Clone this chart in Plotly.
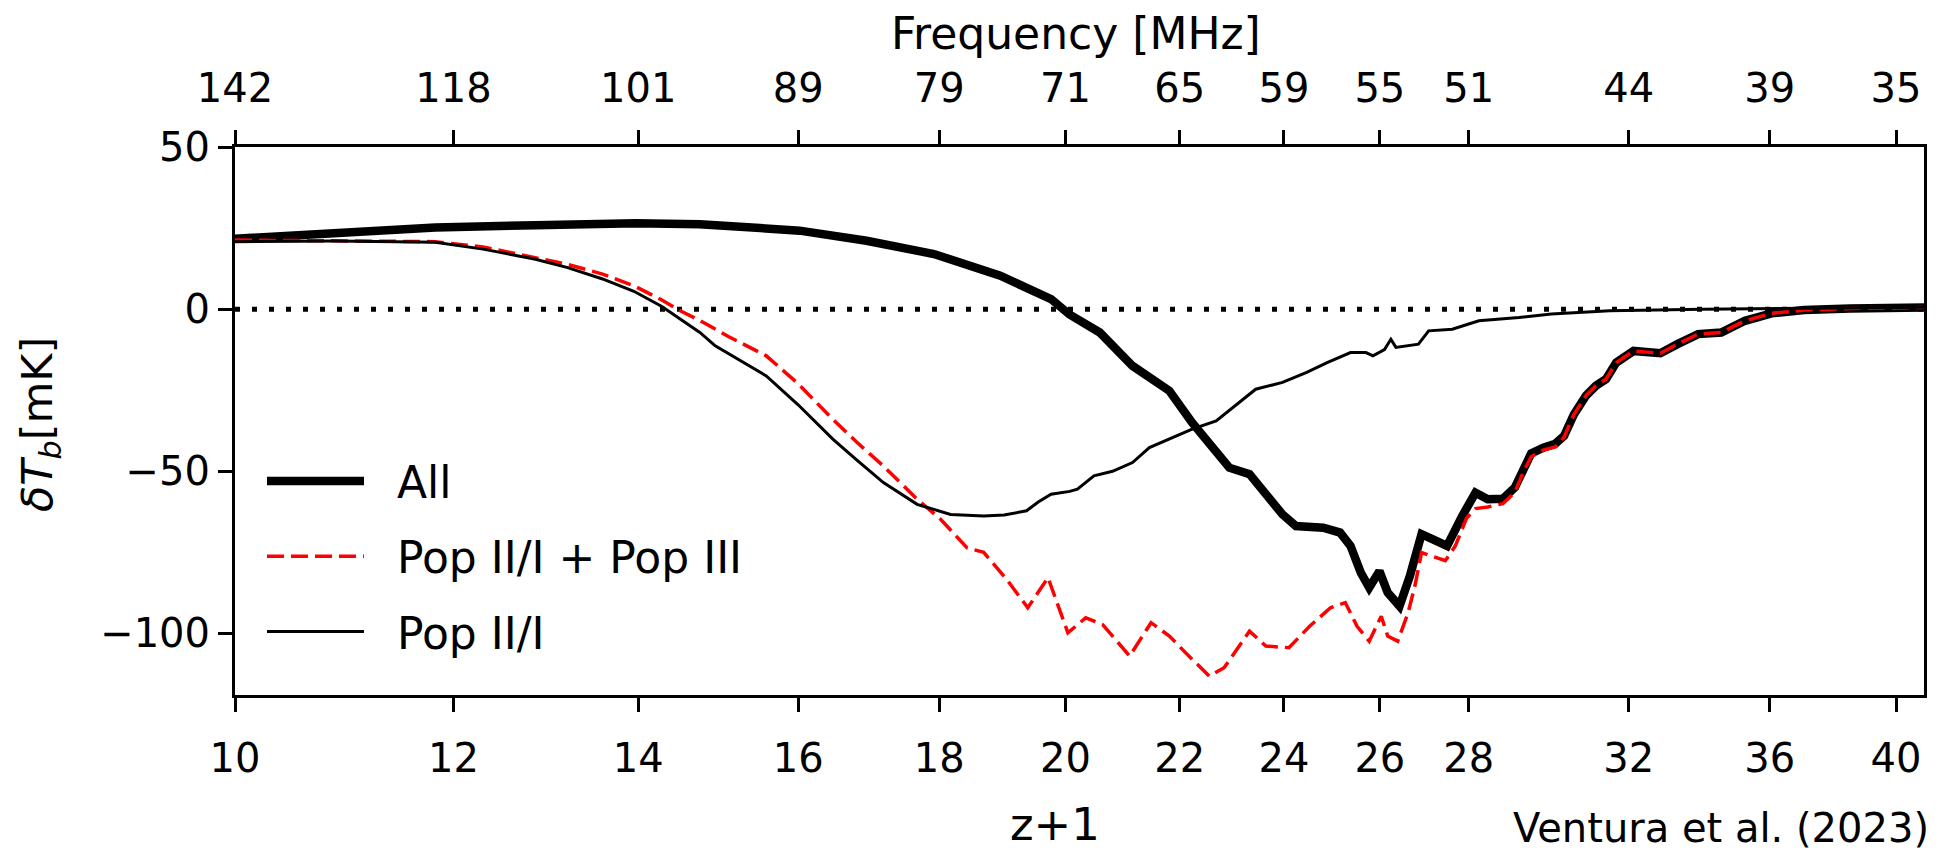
import plotly.graph_objects as go

# ---------------- data ----------------
zp1_all = [10.0, 10.87, 11.82, 12.85, 13.97, 14.74, 15.3, 16.02, 16.94, 17.92, 18.94, 19.76,
           20.07, 20.58, 21.15, 21.5, 21.81, 22.23, 22.55, 22.93, 23.32, 23.57, 23.97, 24.24,
           24.8, 25.15, 25.37, 25.59, 25.77, 25.99, 26.17, 26.43, 26.66, 26.92, 27.15, 27.5,
           27.85, 28.16, 28.45, 28.81, 29.1, 29.3, 29.5, 29.8, 30.1, 30.32, 30.57, 30.88,
           31.14, 31.4, 31.67, 32.13, 32.5, 32.86, 33.33, 33.91, 34.57, 35.26, 36.05, 37.05,
           38.5, 40.95]
dtb_all = [21.7, 23.7, 25.2, 25.9, 26.5, 26.2, 25.4, 24.2, 21.1, 17.0, 10.3, 3.1,
           -1.7, -7.2, -17.5, -21.6, -25.2, -35.0, -41.1, -48.9, -50.9, -55.5, -63.3, -66.9,
           -67.4, -68.9, -73.0, -81.3, -85.9, -80.8, -87.4, -91.6, -82.3, -69.4, -71.0, -73.0,
           -63.8, -56.6, -58.6, -58.5, -55.0, -49.5, -44.5, -42.7, -41.5, -39.1, -32.5, -26.7,
           -23.6, -21.6, -16.5, -12.9, -13.2, -13.6, -10.8, -7.7, -7.2, -3.6, -1.3, -0.3,
           0.2, 0.5]

zp1_p3 = [10.0, 10.87, 11.82, 12.3, 12.85, 13.2, 13.59, 13.95, 14.28, 14.5, 14.74, 15.1,
          15.58, 16.0, 16.47, 16.8, 17.18, 17.67, 18.02, 18.42, 18.68, 19.04, 19.38, 19.71,
          20.04, 20.34, 20.63, 21.1, 21.48, 21.81, 22.11, 22.55, 22.83, 23.32, 23.64, 24.1,
          24.52, 24.95, 25.26, 25.51, 25.77, 26.03, 26.17, 26.39, 26.62, 26.77, 26.92, 27.23,
          27.46, 27.69, 27.95, 28.16, 28.45, 28.81, 29.1, 29.3, 29.5, 29.8, 30.1, 30.32,
          30.57, 30.88, 31.14, 31.4, 31.67, 32.13, 32.5, 32.86, 33.33, 33.91, 34.57, 35.26,
          36.05, 37.05, 38.5, 40.95]
dtb_p3 = [21.3, 21.0, 20.8, 19.2, 16.0, 13.8, 10.8, 7.2, 2.8, -0.5, -3.5, -8.5,
          -14.4, -23.0, -34.0, -41.0, -48.4, -58.6, -64.8, -73.6, -75.0, -83.3, -92.1, -82.8,
          -99.8, -95.2, -97.3, -107.0, -96.7, -100.8, -106.0, -113.2, -110.6, -99.3, -103.9, -104.4,
          -97.8, -92.1, -90.5, -97.8, -102.4, -94.7, -100.8, -102.4, -93.6, -85.4, -75.1, -76.6,
          -77.6, -73.0, -64.5, -61.5, -61.0, -60.0, -56.5, -50.5, -45.5, -43.5, -42.5, -39.5,
          -32.5, -26.7, -23.6, -21.6, -16.5, -12.9, -13.2, -13.6, -10.8, -7.7, -7.2, -3.6,
          -1.3, -0.3, 0.2, 0.5]

zp1_p2 = [10.0, 10.87, 11.82, 12.3, 12.85, 13.2, 13.59, 13.95, 14.28, 14.5, 14.74, 14.93,
          15.58, 16.0, 16.47, 16.8, 17.18, 17.67, 18.17, 18.68, 19.0, 19.36, 19.55, 19.76,
          20.07, 20.2, 20.48, 20.8, 21.15, 21.45, 21.81, 22.23, 22.68, 22.99, 23.44, 23.97,
          24.46, 24.88, 25.37, 25.7, 25.85, 26.1, 26.24, 26.35, 26.85, 27.08, 27.62, 28.24,
          29.2, 30.0, 31.5, 34.0, 37.0, 40.95]
dtb_p2 = [20.8, 21.0, 20.6, 18.5, 15.4, 12.8, 9.3, 5.5, 0.8, -3.0, -7.2, -11.3,
          -20.6, -29.5, -40.1, -46.5, -53.5, -60.2, -63.3, -63.8, -63.5, -62.2, -59.5, -57.1,
          -56.2, -55.5, -51.4, -50.0, -47.3, -42.7, -40.0, -37.0, -34.5, -30.4, -24.7, -22.6,
          -19.5, -16.5, -13.4, -13.4, -14.4, -12.5, -9.3, -11.8, -10.8, -6.7, -6.2, -3.6,
          -2.6, -1.5, -0.5, 0.0, 0.3, 0.6]

zp1_ticks = [10, 12, 14, 16, 18, 20, 22, 24, 26, 28, 32, 36, 40]
freq_labels = ["142", "118", "101", "89", "79", "71", "65", "59", "55", "51", "44", "39", "35"]
y_ticks = [50, 0, -50, -100]

# ---------------- figure ----------------
FONT = "DejaVu Sans"
W, H = 1951, 854
L, R, T, B = 235, 27, 147, 159
pw, ph = W - L - R, H - T - B

def px_x(p):
    return (p - L) / pw

def px_y(p):
    return (H - B - p) / ph

NB = "\u00a0\u00a0"

fig = go.Figure()
fig.add_trace(go.Scatter(x=zp1_all, y=dtb_all, mode="lines", name=NB + "All",
                         legendgroup="a",
                         line=dict(color="black", width=8.5)))
fig.add_trace(go.Scatter(x=zp1_p3, y=dtb_p3, mode="lines", name=NB + "Pop II/I + Pop III",
                         legendgroup="b",
                         line=dict(color="red", width=3.5, dash="17px,7px")))
fig.add_trace(go.Scatter(x=zp1_p2, y=dtb_p2, mode="lines", name=NB + "Pop II/I",
                         legendgroup="c",
                         line=dict(color="black", width=3)))
# carrier for the top (frequency) axis: no visible marks
fig.add_trace(go.Scatter(x=zp1_ticks, y=[None] * len(zp1_ticks), xaxis="x2", yaxis="y",
                         mode="lines", showlegend=False, hoverinfo="skip"))

xr = [1.0, 1.6122]
yr = [-119, 50]

fig.add_shape(type="line", xref="paper", yref="y", x0=0, x1=1, y0=0, y1=0,
              line=dict(color="black", width=5, dash="5px,12px"), layer="below")

axis_common = dict(ticks="outside", ticklen=14, tickwidth=3, tickcolor="black",
                   showline=True, linecolor="black", linewidth=3,
                   showgrid=False, zeroline=False, tickfont=dict(size=40))

fig.update_layout(
    width=W, height=H,
    margin=dict(l=L, r=R, t=T, b=B, pad=0),
    paper_bgcolor="white", plot_bgcolor="white",
    font=dict(family=FONT, color="black", size=40),
    showlegend=True,
    legend=dict(x=px_x(262), y=px_y(446), xanchor="left", yanchor="top",
                font=dict(size=44, family=FONT), bgcolor="rgba(0,0,0,0)",
                itemwidth=97, tracegroupgap=15, traceorder="grouped"),
    xaxis=dict(type="log", range=xr, tickvals=zp1_ticks, ticktext=[str(v) for v in zp1_ticks],
               mirror=False, ticklabelstandoff=12, **axis_common),
    xaxis2=dict(type="log", range=xr, overlaying="x", side="top", anchor="y",
                tickvals=zp1_ticks, ticktext=freq_labels,
                ticklabelstandoff=12, **axis_common),
    yaxis=dict(range=yr, tickvals=y_ticks, mirror=True, ticklabelstandoff=0, **axis_common),
)

fig.add_annotation(text="Frequency [MHz]", xref="paper", yref="paper",
                   x=px_x(1076), y=px_y(34), showarrow=False,
                   xanchor="center", yanchor="middle", font=dict(size=44))
fig.add_annotation(text="z+1", xref="paper", yref="paper",
                   x=px_x(1055), y=px_y(825), showarrow=False,
                   xanchor="center", yanchor="middle", font=dict(size=45))
fig.add_annotation(text="Ventura et al. (2023)", xref="paper", yref="paper",
                   x=px_x(1931), y=px_y(828), showarrow=False,
                   xanchor="right", yanchor="middle", font=dict(size=40))
fig.add_annotation(text="<i>δT<sub>b</sub></i>[mK]", xref="paper", yref="paper",
                   x=px_x(40), y=px_y(425), showarrow=False, textangle=-90,
                   xanchor="center", yanchor="middle", font=dict(size=43))

fig.write_html("out.html")
